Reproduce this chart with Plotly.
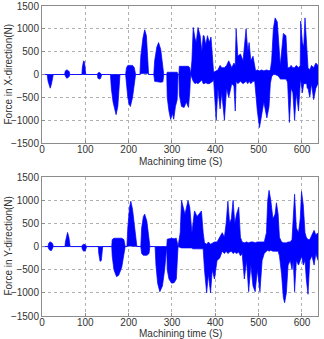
import plotly.graph_objects as go
from plotly.subplots import make_subplots

# ---- Data: envelope of the force signals (time s, upper N, lower N) ----
fx_time = [0, 12, 14, 17, 19, 22, 25, 26, 52, 54, 57, 60, 63, 64, 92, 93, 96, 98, 100, 101,
           128, 129, 132, 135, 137, 138, 158, 160, 164, 169, 171, 175, 178, 180, 193, 195, 198,
           201, 204, 209, 213, 216, 226, 228, 233, 237, 241, 244, 246, 258, 260, 265, 269, 274,
           279, 281, 288, 289, 293, 297, 301, 304, 308, 312, 314, 316, 317, 322, 328, 333, 338,
           341, 343, 346, 349, 353, 356, 360, 365, 369, 372, 374, 378, 382, 386, 390, 394, 396,
           402, 406, 411, 415, 421, 426, 431, 438, 443, 446, 448, 452, 458, 464, 471, 475, 478,
           482, 487, 491, 493, 497, 502, 507, 512, 519, 524, 527, 530, 534, 538, 543, 547, 550,
           557, 563, 566, 567, 571, 575, 579, 583, 587, 592, 596, 597, 601, 604, 607, 611, 612,
           614, 618, 622, 627, 632, 637]
fx_upper = [0, 0, 0, 0, 0, 0, 0, 0, 0, 80, 100, 90, 60, 0, 0, 150, 300, 280, 100, 0,
            0, 30, 50, 30, 0, 0, 0, 0, 0, 0, 0, 0, 0, 0, 0, 150, 200,
            200, 200, 200, 150, 0, 0, 400, 800, 980, 850, 400, 0, 0, 300, 600, 700, 550,
            200, 0, 0, 50, 50, 50, 60, 50, 50, 50, 0, 0, 180, 180, 190, 180, 180,
            150, 0, 300, 1030, 800, 700, 1030, 850, 500, 850, 850, 650, 850, 700, 820, 200, 50,
            80, 100, 200, 150, 150, 200, 300, 150, 250, 200, 1000, 400, 450, 300, 1000, 500, 700,
            300, 400, 100, 80, 100, 80, 100, 80, 100, 80, 100, 300, 1000, 1240, 1150, 600, 200,
            900, 850, 300, 150, 150, 200, 150, 150, 200, 150, 200, 1170, 700, 600, 1240, 500, 200,
            150, 100, 200, 150, 250, 200]
fx_lower = [0, 0, -150, -280, -300, -200, -50, 0, 0, -50, -80, -70, -40, 0, 0, 0, 0, 0, 0, 0,
            0, -80, -100, -90, -40, 0, 0, -300, -600, -850, -880, -700, -300, 0, 0, -300, -500,
            -650, -700, -500, -200, 0, 0, 20, 20, 20, 20, 20, 0, 0, -150, -160, -170, -170,
            -160, 0, 0, -500, -800, -985, -850, -980, -700, -550, 0, 0, -450, -700, -720, -600, -720,
            -400, 0, -100, -150, -200, -180, -200, -150, -120, -200, -200, -180, -200, -200, -180, -150, -100,
            -1000, -300, -750, -400, -1000, -300, -500, -200, -250, -800, -150, -200, -150, -200, -150, -200, -150,
            -200, -150, -150, -400, -800, -1160, -900, -600, -950, -700, -200, -50, 0, 0, -20, -50, -100,
            -100, -100, -150, -200, -1050, -300, -400, -1000, -400, -800, -200, -100, -400, -200, -200, -200, -300,
            -300, -500, -200, -550, -300, -200]

fy_time = [0, 14, 15, 18, 22, 25, 26, 53, 54, 57, 59, 62, 65, 92, 93, 96, 100, 103, 130, 131,
           134, 137, 140, 161, 162, 166, 172, 177, 184, 189, 192, 196, 198, 202, 205, 209, 214,
           219, 228, 230, 234, 237, 242, 247, 249, 261, 263, 267, 272, 278, 283, 288, 289, 293,
           299, 305, 310, 314, 319, 322, 327, 330, 337, 341, 346, 348, 352, 358, 363, 368, 372,
           375, 380, 384, 389, 393, 398, 404, 410, 416, 421, 425, 429, 433, 437, 441, 445, 449,
           454, 458, 462, 467, 472, 477, 482, 487, 492, 497, 503, 508, 513, 518, 521, 524, 528,
           533, 538, 541, 545, 548, 553, 557, 560, 564, 568, 573, 577, 580, 583, 587, 592, 596,
           599, 603, 607, 610, 614, 618, 623, 628, 632, 637]
fy_upper = [0, 0, 60, 100, 90, 50, 0, 0, 100, 280, 305, 200, 0, 0, 30, 50, 40, 0, 0, 0,
            0, 0, 0, 0, 150, 180, 180, 180, 180, 150, 0, 0, 400, 850, 980, 800, 400,
            0, 0, 400, 650, 700, 550, 200, 0, 0, 0, 0, 0, 0, 0, 0, 160, 170,
            180, 170, 180, 0, 300, 995, 800, 700, 995, 850, 300, 500, 770, 650, 700, 770, 300,
            80, 50, 100, 50, 80, 100, 100, 200, 300, 200, 500, 980, 500, 600, 1000, 500, 700,
            850, 200, 100, 80, 100, 80, 100, 100, 80, 100, 100, 100, 100, 300, 1000, 1215, 1000,
            600, 700, 945, 700, 200, 100, 80, 80, 80, 100, 100, 150, 600, 1130, 400, 300, 600,
            1190, 900, 300, 200, 150, 150, 250, 350, 250, 300]
fy_lower = [0, 0, -40, -80, -85, -30, 0, 0, 0, 0, 0, 0, 0, 0, -60, -100, -90, 0, 0, -150,
            -320, -300, 0, 0, -200, -500, -650, -620, -450, -200, 0, 0, 10, 10, 10, 10, 10,
            0, 0, -150, -190, -190, -190, -150, 0, 0, -400, -800, -975, -850, -500, 0, -500, -700,
            -790, -780, -700, 0, -30, -30, -30, -30, -30, -30, -30, -50, -50, -50, -50, -50, -50,
            -500, -1000, -600, -1000, -500, -700, -300, -250, -100, -150, -100, -150, -120, -100, -150, -120, -150,
            -120, -200, -150, -700, -300, -975, -400, -850, -975, -500, -975, -300, -150, -100, -80, -100, -80,
            -100, -100, -100, -100, -200, -600, -1100, -1215, -1000, -400, -300, -500, -300, -975, -300, -400, -300,
            -200, -400, -300, -700, -1030, -300, -200, -400, -150, -300]

x_ticks = [0, 100, 200, 300, 400, 500, 600]
y_ticks = [-1500, -1000, -500, 0, 500, 1000, 1500]

BLUE = "#0000ff"
FONT = "Liberation Sans, Arial, sans-serif"
TXT = "#333333"

fig = make_subplots(rows=2, cols=1, vertical_spacing=0.11)
fig.update_layout(
    yaxis=dict(domain=[0.558, 1.0]),
    yaxis2=dict(domain=[0.0, 0.448]),
)

for row, (t, up, lo) in enumerate([(fx_time, fx_upper, fx_lower), (fy_time, fy_upper, fy_lower)], start=1):
    fig.add_trace(go.Scatter(x=t, y=lo, mode="lines", line=dict(color=BLUE, width=0.7),
                             showlegend=False, hoverinfo="skip"), row=row, col=1)
    fig.add_trace(go.Scatter(x=t, y=up, mode="lines", line=dict(color=BLUE, width=0.7),
                             fill="tonexty", fillcolor=BLUE, showlegend=False,
                             hoverinfo="skip"), row=row, col=1)

axis_common = dict(showline=True, linecolor="#8c8c8c", linewidth=1, mirror=True,
                   showgrid=True, gridcolor="#b0b0b0", griddash="dot", gridwidth=1,
                   zeroline=False, ticks="inside", ticklen=3, tickcolor="#8c8c8c",
                   automargin=False,
                   tickfont=dict(family=FONT, size=10, color=TXT))

for r in (1, 2):
    fig.update_xaxes(range=[0, 637], tickvals=x_ticks, ticklabelstandoff=-3,
                     row=r, col=1, **axis_common)
    fig.update_yaxes(range=[-1500, 1500], tickvals=y_ticks, row=r, col=1, **axis_common)

fig.update_layout(
    width=324, height=339,
    margin=dict(l=42, r=6, t=6, b=23, autoexpand=False),
    paper_bgcolor="white", plot_bgcolor="white",
    font=dict(family=FONT, size=10, color=TXT),
    annotations=[
        dict(text="Machining time (S)", x=0.5, y=0.558, xref="paper", yref="paper",
             xanchor="center", yanchor="top", yshift=-11, showarrow=False,
             font=dict(family=FONT, size=10, color=TXT)),
        dict(text="Machining time (S)", x=0.5, y=0.0, xref="paper", yref="paper",
             xanchor="center", yanchor="top", yshift=-10, showarrow=False,
             font=dict(family=FONT, size=10, color=TXT)),
        dict(text="Force in X-direction(N)", x=0, y=0.779, xref="paper", yref="paper",
             xanchor="center", yanchor="middle", xshift=-33, textangle=-90, showarrow=False,
             font=dict(family=FONT, size=10, color=TXT)),
        dict(text="Force in Y-direction(N)", x=0, y=0.224, xref="paper", yref="paper",
             xanchor="center", yanchor="middle", xshift=-33, textangle=-90, showarrow=False,
             font=dict(family=FONT, size=10, color=TXT)),
    ],
)

fig.write_html("out.html")
